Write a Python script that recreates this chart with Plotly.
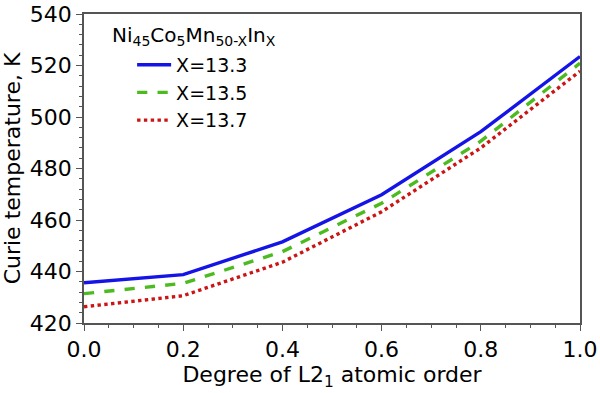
import plotly.graph_objects as go

order = [0.0, 0.2, 0.4, 0.6, 0.8, 1.0]
tc_133 = [435.6, 438.8, 451.5, 469.8, 494.3, 523.5]
tc_135 = [431.4, 435.4, 447.7, 466.5, 490.6, 520.9]
tc_137 = [426.3, 430.6, 443.6, 463.2, 488.0, 517.8]
names = ["X=13.3", "X=13.5", "X=13.7"]
colors = ["#1414e6", "#4cbb1f", "#cc1414"]
dashes = ["solid", "dash", "dot"]
legend_title = "Ni<sub>45</sub>Co<sub>5</sub>Mn<sub>50-X</sub>In<sub>X</sub>"

FONT = "DejaVu Sans, Arial, sans-serif"

fig = go.Figure()
for ys, n, c, d in zip([tc_133, tc_135, tc_137], names, colors, dashes):
    fig.add_trace(go.Scatter(x=order, y=ys, mode="lines", name=n,
                             line=dict(color=c, width=3.4, dash=d)))

axis_common = dict(showline=True, linecolor="#555555", linewidth=1.5, mirror=True,
                   showgrid=False, zeroline=False, ticks="outside", ticklen=6,
                   tickcolor="#555555", automargin=False,
                   tickfont=dict(size=22, color="black", family=FONT))

fig.update_xaxes(range=[0, 1], dtick=0.2, tickformat=".1f",
                 minor=dict(dtick=0.05, ticks="outside", ticklen=3, tickcolor="#555555"),
                 title=dict(text="Degree of L2<sub>1</sub> atomic order",
                            font=dict(size=22, color="black", family=FONT), standoff=4),
                 **axis_common)
fig.update_yaxes(range=[420, 540], dtick=20,
                 minor=dict(dtick=4, ticks="outside", ticklen=3, tickcolor="#555555"),
                 title=dict(text="Curie temperature, K",
                            font=dict(size=22, color="black", family=FONT), standoff=6),
                 **axis_common)

fig.add_annotation(text=legend_title, xref="paper", yref="paper", x=0.052, y=0.929,
                   xanchor="left", yanchor="middle", showarrow=False,
                   font=dict(size=20, color="black", family=FONT))

fig.update_layout(
    width=600, height=393,
    margin=dict(l=84, r=20, t=14, b=70, autoexpand=False),
    plot_bgcolor="white", paper_bgcolor="white",
    font=dict(family=FONT, color="black"),
    legend=dict(x=0.097, y=0.897, xanchor="left", yanchor="top",
                font=dict(size=19, family=FONT), bgcolor="rgba(0,0,0,0)",
                tracegroupgap=0, itemwidth=34),
)

fig.write_html("out.html", config={"displayModeBar": False},
               post_script="document.body.style.margin='0';")
